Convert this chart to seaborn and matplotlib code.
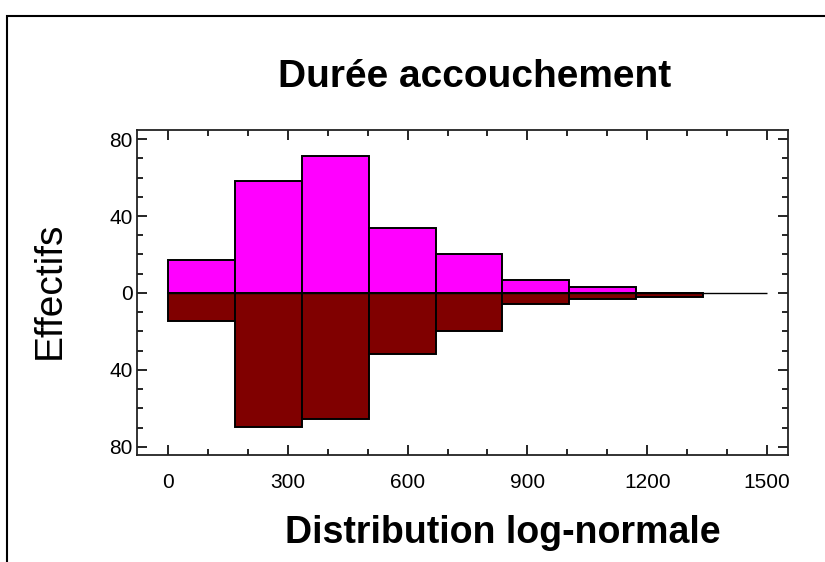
import numpy as np
import matplotlib
matplotlib.use("Agg")
import matplotlib.pyplot as plt
import seaborn as sns
from matplotlib.patches import Rectangle
from matplotlib.ticker import MultipleLocator, FuncFormatter

# Data
bin_edges = [0, 167.5, 335, 502.5, 670, 837.5, 1005, 1172.5, 1340]
observed = [17, 58, 71, 34, 20, 7, 3, 0]                   # top (observed counts)
expected = [14.5, 69.5, 65.5, 31.7, 20.0, 5.5, 2.9, 2.0]   # bottom (log-normal fit)
x_ticks = [0, 300, 600, 900, 1200, 1500]
y_ticks = [-80, -40, 0, 40, 80]

title = "Durée accouchement"
xlabel = "Distribution log-normale"
ylabel = "Effectifs"

sns.set_style("ticks")
plt.rcParams['font.family'] = ['Liberation Sans', 'DejaVu Sans']
plt.rcParams['text.color'] = 'black'

fig = plt.figure(figsize=(8.25, 5.62), dpi=100)
ax = fig.add_axes([137 / 825, 1 - 455 / 562, (788 - 137) / 825, (455 - 130) / 562])

centers = [(a + b) / 2 for a, b in zip(bin_edges[:-1], bin_edges[1:])]

sns.histplot(x=centers, weights=observed, bins=bin_edges, color="#ff00ff",
             edgecolor="black", linewidth=1.4, alpha=1, ax=ax)
sns.histplot(x=centers, weights=[-v for v in expected], bins=bin_edges, color="#800000",
             edgecolor="black", linewidth=1.4, alpha=1, ax=ax)

ax.hlines(0, 0, 1500, color="black", linewidth=1)

ax.set_xlim(-77.6, 1552.6)
ax.set_ylim(-84.2, 84.7)
ax.set_xticks(x_ticks)
ax.set_yticks(y_ticks)
ax.xaxis.set_minor_locator(MultipleLocator(100))
ax.yaxis.set_minor_locator(MultipleLocator(10))
ax.yaxis.set_major_formatter(FuncFormatter(lambda v, p: f"{abs(v):.0f}"))
ax.tick_params(which="both", direction="in", top=True, right=True, width=1.2,
               color="black", labelcolor="black")
ax.tick_params(which="major", length=7, labelsize=15)
ax.tick_params(axis="x", which="major", pad=13)
ax.tick_params(axis="y", which="major", pad=3)
ax.tick_params(which="minor", length=4)
for s in ax.spines.values():
    s.set_linewidth(1.3)
    s.set_color("#222222")
    s.set_visible(True)

ax.set_xlabel("")
ax.set_ylabel("")
fig.text(475 / 825, 1 - 87 / 562, title, ha="center", va="baseline", fontsize=28, fontweight="bold")
fig.text(503 / 825, 1 - 543 / 562, xlabel, ha="center", va="baseline", fontsize=27, fontweight="bold")
fig.text(50 / 825, 1 - 290 / 562, ylabel, ha="center", va="center", fontsize=28, rotation=90)

# outer frame
fig.patches.append(Rectangle((7 / 825, -0.1), 1.2, 1 - 16 / 562 + 0.1, transform=fig.transFigure,
                             fill=False, edgecolor="black", linewidth=1.5))

fig.savefig("out.png", dpi=100)
